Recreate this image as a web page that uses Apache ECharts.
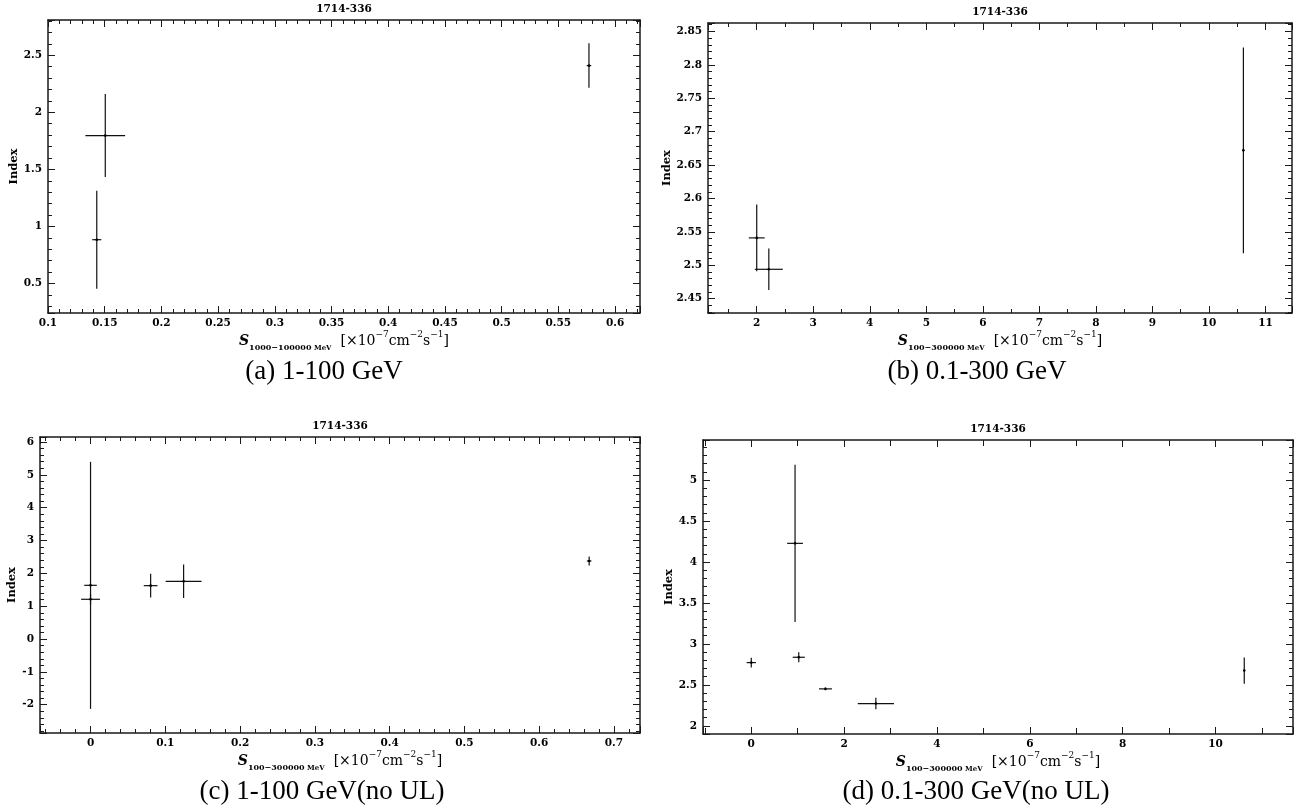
<!DOCTYPE html>
<html>
<head>
<meta charset="utf-8">
<title>1714-336 index vs flux</title>
<script src="https://cdn.jsdelivr.net/npm/echarts@6/dist/echarts.min.js"></script>
<style>
  html, body { margin: 0; padding: 0; background: #fff; }
  #main { width: 1304px; height: 811px; }
</style>
</head>
<body>
<div id="main"></div>
<script>
// ---- data ----
// (a) 1-100 GeV
const fluxA = [0.143, 0.1505, 0.577];
const fluxErrA = [0.004, 0.0175, 0.002];
const indexA = [0.883, 1.796, 2.41];
const indexErrA = [0.43, 0.364, 0.195];
// (b) 0.1-300 GeV
const fluxB = [2.0, 2.214, 10.61];
const fluxErrB = [0.14, 0.247, 0.02];
const indexB = [2.541, 2.494, 2.672];
const indexErrB = [0.05, 0.031, 0.154];
// (c) 1-100 GeV (no UL)
const fluxC = [0, 0, 0.0804, 0.1245, 0.667];
const fluxErrC = [0.0084, 0.0126, 0.0092, 0.024, 0.003];
const indexC = [1.635, 1.21, 1.625, 1.757, 2.375];
const indexErrC = [3.76, 0.16, 0.36, 0.51, 0.14];
// (d) 0.1-300 GeV (no UL)
const fluxD = [0, 0.943, 1.023, 1.598, 2.684, 10.62];
const fluxErrD = [0.1, 0.17, 0.13, 0.14, 0.39, 0.02];
const indexD = [2.772, 4.228, 2.837, 2.451, 2.272, 2.675];
const indexErrD = [0.06, 0.96, 0.06, 0.015, 0.07, 0.16];

const sourceName = "1714-336";
const captions = ["(a) 1-100 GeV", "(b) 0.1-300 GeV", "(c) 1-100 GeV(no UL)", "(d) 0.1-300 GeV(no UL)"];
const bands = ["1000\u2212100000", "100\u2212300000", "100\u2212300000", "100\u2212300000"];

const pointSets = [
  [fluxA, indexA, fluxErrA, indexErrA],
  [fluxB, indexB, fluxErrB, indexErrB],
  [fluxC, indexC, fluxErrC, indexErrC],
  [fluxD, indexD, fluxErrD, indexErrD],
];

// ---- layout ----
const panels = [
  { grid: { left: 48, top: 20, width: 592, height: 293 }, xr: [0.1, 0.622], yr: [0.24, 2.81],
    xs: [0.05, 0.01], ys: [0.5, 0.1], yGap: 28, cap: [324, 372] },
  { grid: { left: 708, top: 23, width: 584, height: 290 }, xr: [1.138, 11.47], yr: [2.4286, 2.8626],
    xs: [1, 0.5], ys: [0.05, 0.01], yGap: 33, cap: [977, 372] },
  { grid: { left: 40, top: 437, width: 600, height: 296 }, xr: [-0.0676, 0.735], yr: [-2.86, 6.15],
    xs: [0.1, 0.02], ys: [1, 0.2], yGap: 21, cap: [322, 792] },
  { grid: { left: 703, top: 440, width: 590, height: 294 }, xr: [-1.04, 11.67], yr: [1.9, 5.49],
    xs: [2, 1], ys: [0.5, 0.1], yGap: 27, cap: [976, 792], xMinorLen: 6 },
];

const SERIF = "DejaVu Serif";
const INK = "#1a1a1a";

function onStep(v, step) {
  const r = v / step;
  return Math.abs(r - Math.round(r)) < 1e-6;
}
function fmt(v) {
  return String(parseFloat(v.toFixed(6)));
}

function makeAxis(dim, gi, range, step, pos, opts) {
  const ax = {
    type: "value",
    gridIndex: gi,
    position: pos,
    min: range[0],
    max: range[1],
    minInterval: step,
    maxInterval: step,
    scale: true,
    silent: true,
    axisLine: { show: !!opts.line, onZero: false, lineStyle: { color: INK, width: 1.5 } },
    axisTick: { show: true, inside: true, length: opts.tickLen, lineStyle: { color: INK, width: 1 } },
    axisLabel: { show: false },
    splitLine: { show: false },
    minorTick: { show: false },
  };
  if (opts.labels) {
    ax.axisLabel = {
      show: true,
      margin: dim === "x" ? 5 : 6,
      color: "#000",
      fontFamily: SERIF,
      fontWeight: "bold",
      fontSize: 10.5,
      formatter: (v) => (onStep(v, step) ? fmt(v) : ""),
    };
  }
  if (opts.name) Object.assign(ax, opts.name);
  return ax;
}

const xAxes = [], yAxes = [], series = [], graphics = [];

const richName = {
  s: { fontFamily: SERIF, fontStyle: "italic", fontWeight: "bold", fontSize: 14, lineHeight: 22, color: "#000" },
  sub: { fontFamily: SERIF, fontWeight: "bold", fontSize: 8, lineHeight: 14, verticalAlign: "bottom", color: "#000" },
  mev: { fontFamily: SERIF, fontWeight: "bold", fontSize: 7, lineHeight: 14, verticalAlign: "bottom", color: "#000" },
  t: { fontFamily: SERIF, fontSize: 14, lineHeight: 22, color: "#000" },
  sup: { fontFamily: SERIF, fontSize: 9, lineHeight: 12, verticalAlign: "top", color: "#000" },
};

panels.forEach((p, i) => {
  const xName = "{s|S}{sub|" + bands[i] + "}{mev| MeV}{t|  [\u00d710}{sup|\u22127}{t|cm}{sup|\u22122}{t|s}{sup|\u22121}{t|]}";
  // bottom / left: labelled major, then minor; top / right: mirrored ticks
  xAxes.push(makeAxis("x", i, p.xr, p.xs[0], "bottom", {
    line: true, labels: true, tickLen: 7,
    name: { name: xName, nameLocation: "middle", nameGap: 15, nameTextStyle: { rich: richName } },
  }));
  xAxes.push(makeAxis("x", i, p.xr, p.xs[1], "bottom", { tickLen: p.xMinorLen || 4 }));
  xAxes.push(makeAxis("x", i, p.xr, p.xs[0], "top", { line: true, tickLen: 7 }));
  xAxes.push(makeAxis("x", i, p.xr, p.xs[1], "top", { tickLen: p.xMinorLen || 4 }));

  yAxes.push(makeAxis("y", i, p.yr, p.ys[0], "left", {
    line: true, labels: true, tickLen: 7,
    name: { name: "Index", nameLocation: "middle", nameGap: p.yGap,
      nameTextStyle: { fontFamily: SERIF, fontWeight: "bold", fontSize: 11.5, color: "#000" } },
  }));
  yAxes.push(makeAxis("y", i, p.yr, p.ys[1], "left", { tickLen: 4 }));
  yAxes.push(makeAxis("y", i, p.yr, p.ys[0], "right", { line: true, tickLen: 7 }));
  yAxes.push(makeAxis("y", i, p.yr, p.ys[1], "right", { tickLen: 4 }));

  const [xs, ys, xe, ye] = pointSets[i];
  series.push({
    type: "custom",
    xAxisIndex: i * 4,
    yAxisIndex: i * 4,
    silent: true,
    data: xs.map((x, k) => [x, ys[k], xe[k], ye[k]]),
    encode: { x: 0, y: 1 },
    renderItem: (params, api) => {
      const x = api.value(0), y = api.value(1), dx = api.value(2), dy = api.value(3);
      const l = api.coord([x - dx, y]), r = api.coord([x + dx, y]);
      const t = api.coord([x, y + dy]), b = api.coord([x, y - dy]);
      const c = api.coord([x, y]);
      const st = { stroke: "#111", lineWidth: 1.2 };
      return {
        type: "group",
        children: [
          { type: "line", shape: { x1: l[0], y1: l[1], x2: r[0], y2: r[1] }, style: st },
          { type: "line", shape: { x1: t[0], y1: t[1], x2: b[0], y2: b[1] }, style: st },
          { type: "circle", shape: { cx: c[0], cy: c[1], r: 1.3 }, style: { fill: "#000" } },
        ],
      };
    },
  });

  const g = p.grid;
  graphics.push({
    type: "text", x: g.left + g.width / 2, y: g.top - 11,
    style: { text: sourceName, align: "center", verticalAlign: "middle",
      fontFamily: SERIF, fontWeight: "bold", fontSize: 10.5, fill: "#000" },
  });
  graphics.push({
    type: "text", x: p.cap[0], y: p.cap[1],
    style: { text: captions[i], align: "center", verticalAlign: "middle",
      fontFamily: "Liberation Serif", fontSize: 27, fill: "#000" },
  });
});

const chart = echarts.init(document.getElementById("main"), null, { renderer: "canvas" });
chart.setOption({
  animation: false,
  backgroundColor: "#fff",
  grid: panels.map((p) => Object.assign({ containLabel: false, outerBoundsMode: "none" }, p.grid)),
  xAxis: xAxes,
  yAxis: yAxes,
  series: series,
  graphic: graphics,
});
</script>
</body>
</html>
